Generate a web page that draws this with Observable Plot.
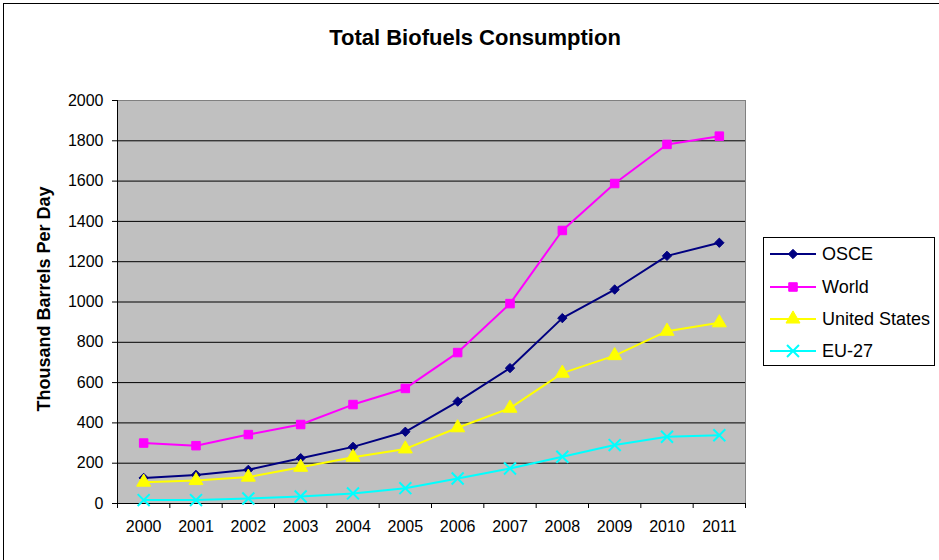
<!DOCTYPE html>
<html><head><meta charset="utf-8">
<script src="https://cdn.jsdelivr.net/npm/d3@7"></script>
<script src="https://cdn.jsdelivr.net/npm/@observablehq/plot@0.6"></script>
<style>
body{margin:0;background:#fff;overflow:hidden;font-family:Arial,"Liberation Sans",sans-serif}
#wrap{position:relative;width:939px;height:560px;overflow:hidden}
#border{position:absolute;left:3px;top:3px;width:1000px;height:700px;border:1.5px solid #000;pointer-events:none}
#title{position:absolute;left:0;width:950px;top:25px;text-align:center;font-weight:bold;font-size:22px;color:#000}
#legend{position:absolute;left:763px;top:237px;width:172px;height:129px;border:1px solid #000;background:#fff;box-sizing:border-box}
.item{position:absolute;left:6px;height:20px;display:flex;align-items:center;font-size:18px;color:#000;white-space:nowrap}
.item svg{margin-right:6px}
</style></head>
<body>
<div id="wrap">
  <div id="chart"></div>
  <div id="title"></div>
  <div id="legend"></div>
  <div id="border"></div>
</div>
<script>
const years = [2000,2001,2002,2003,2004,2005,2006,2007,2008,2009,2010,2011];
const seriesNames = ["OSCE","World","United States","EU-27"];
const osce  = [127,142,167,225,281,356,506,672,920,1062,1229,1294];
const world = [300,287,342,392,491,571,749,992,1355,1588,1782,1823];
const us    = [106,114,131,180,230,271,376,473,647,734,855,897];
const eu    = [17,17,25,35,50,76,124,174,232,290,331,339];
const yTicks = [0,200,400,600,800,1000,1200,1400,1600,1800,2000];
const titleText = "Total Biofuels Consumption";
const yLabel = "Thousand Barrels Per Day";

const valuesBySeries = [osce, world, us, eu];
const styles = [
  {color:"#000080", symbol:"diamond2", r:4.2, fill:true},
  {color:"#ff00ff", symbol:"square", r:4.8, fill:true},
  {color:"#ffff00", symbol:"triangle", r:5.2, fill:true},
  {color:"#00ffff", symbol:"times", r:5.5, fill:false}
];

const table = [];
seriesNames.forEach((s,i)=>years.forEach((y,j)=>table.push({series:s, year:y, value:valuesBySeries[i][j]})));

const boundaries = [...years.map(y=>y-0.5), years[years.length-1]+0.5];

const marks = [
  Plot.frame({fill:"#c0c0c0", stroke:"#808080"}),
  Plot.gridY(yTicks.filter(v=>v>0 && v<2000), {stroke:"#000", strokeOpacity:1}),
  Plot.ruleX([boundaries[0]], {stroke:"#000"}),
  Plot.ruleY([0], {stroke:"#000"}),
  Plot.axisY(yTicks, {tickSize:5, tickPadding:9, fontSize:16, label:null, tickFormat:d=>String(d)}),
  Plot.axisX(boundaries, {tickSize:5, tickFormat:()=>"", label:null}),
  Plot.axisX(years, {tickSize:0, tickPadding:17, fontSize:16, tickFormat:d=>String(d), label:null}),
  Plot.text([yLabel], {frameAnchor:"left", textAnchor:"middle", dx:-73, dy:-3, rotate:-90, fontSize:18, fontWeight:"bold", fill:"#000"})
];
seriesNames.forEach((s,i)=>{
  const st = styles[i];
  const d = table.filter(r=>r.series===s);
  marks.push(Plot.line(d, {x:"year", y:"value", stroke:st.color, strokeWidth:2}));
});
seriesNames.forEach((s,i)=>{
  const st = styles[i];
  const d = table.filter(r=>r.series===s);
  marks.push(Plot.dot(d, {x:"year", y:"value", symbol:()=>st.symbol, r:st.r,
    fill: st.fill ? st.color : "none", stroke: st.color, strokeWidth: st.fill ? 1 : 2}));
});

const chart = Plot.plot({
  width:939, height:560,
  marginLeft:117, marginRight:194, marginTop:100, marginBottom:57,
  style:{fontFamily:"Arial, 'Liberation Sans', sans-serif", color:"#000", background:"transparent"},
  x:{type:"linear", domain:[boundaries[0], boundaries[boundaries.length-1]], axis:null},
  y:{domain:[0,2000], axis:null},
  symbol:{type:"identity"},
  marks
});
document.getElementById("chart").appendChild(chart);
document.getElementById("title").textContent = titleText;

const legend = document.getElementById("legend");
const ys = [16,49,81,113];
seriesNames.forEach((s,i)=>{
  const st = styles[i];
  const item = document.createElement("div");
  item.className = "item";
  item.style.top = (ys[i]-10)+"px";
  const sym = d3.symbol(
    {diamond2:d3.symbolDiamond2, square:d3.symbolSquare, triangle:d3.symbolTriangle, times:d3.symbolTimes}[st.symbol],
    Math.PI*st.r*st.r)();
  item.innerHTML = `<svg width="46" height="20"><line x1="0" x2="46" y1="10" y2="10" stroke="${st.color}" stroke-width="2"/>`+
    `<path transform="translate(23,10)" d="${sym}" fill="${st.fill?st.color:"none"}" stroke="${st.color}" stroke-width="${st.fill?1:2}"/></svg><span>${s}</span>`;
  legend.appendChild(item);
});
</script>
</body></html>
